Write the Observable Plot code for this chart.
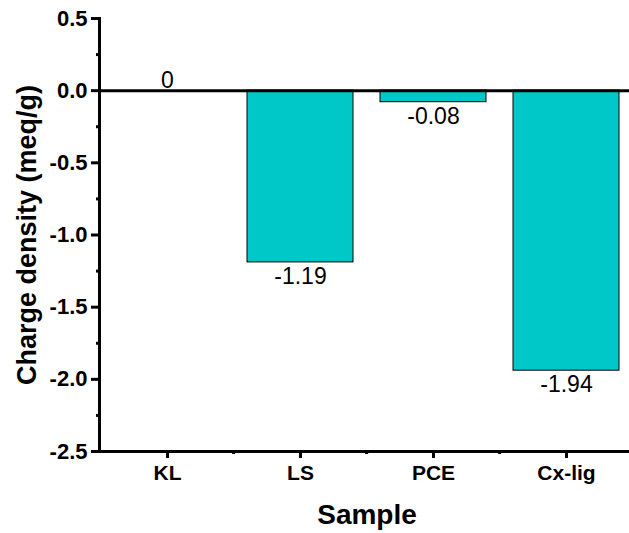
<!DOCTYPE html>
<html><head><meta charset="utf-8">
<script src="https://cdn.jsdelivr.net/npm/d3@7"></script>
<script src="https://cdn.jsdelivr.net/npm/@observablehq/plot@0.6"></script>
<style>
body{margin:0;background:#fff;}
</style></head><body><div id="chart"></div>
<script>
const samples = ["KL", "LS", "PCE", "Cx-lig"];
const values = [0, -1.19, -0.08, -1.94];
const valueLabels = ["0", "-1.19", "-0.08", "-1.94"];
const yMajorTicks = [-2.5, -2, -1.5, -1, -0.5, 0, 0.5];
const yMinorTicks = [-2.25, -1.75, -1.25, -0.75, -0.25, 0.25];
const xTitle = "Sample";
const yTitle = "Charge density (meq/g)";

const data = samples.map((s, i) => ({sample: s, value: values[i], label: valueLabels[i]}));
const W = 629, H = 533, mL = 99, mR = -5, mT = 18, mB = 82;
const step = (W - mL - mR) / (samples.length - 0.2 + 0.2);
const font = '"Liberation Sans", Arial, sans-serif';

const chart = Plot.plot({
  width: W, height: H, marginLeft: mL, marginRight: mR, marginTop: mT, marginBottom: mB,
  style: {fontFamily: font, background: "#fff", color: "#000"},
  x: {domain: samples, paddingInner: 0.2, paddingOuter: 0.1, axis: null},
  y: {domain: [-2.5, 0.5], axis: null},
  marks: [
    Plot.barY(data, {x: "sample", y: "value", fill: "#00c8c8", stroke: "#000", strokeWidth: 1}),
    Plot.ruleY([0], {stroke: "#000", strokeWidth: 3}),
    Plot.frame({anchor: "left", strokeWidth: 3}),
    Plot.frame({anchor: "bottom", strokeWidth: 3}),
    Plot.axisY(yMajorTicks, {label: null, tickSize: 8, tickPadding: 4, strokeWidth: 3, fontSize: 22, fontWeight: "bold", tickFormat: d => d.toFixed(1)}),
    Plot.axisY(yMinorTicks, {label: null, tickSize: 3, strokeWidth: 3, tickFormat: () => ""}),
    Plot.axisX(samples, {label: null, tickSize: 7, tickPadding: 7, strokeWidth: 3, fontSize: 21, fontWeight: "bold"}),
    Plot.axisX(samples.slice(1), {label: null, tickSize: 3, strokeWidth: 3, tickFormat: () => "", dx: -step / 2}),
    Plot.text(data.filter(d => d.value < 0), {x: "sample", y: "value", text: "label", lineAnchor: "top", dy: 5, fontSize: 23}),
    Plot.text(data.filter(d => d.value >= 0), {x: "sample", y: "value", text: "label", lineAnchor: "bottom", dy: -3, fontSize: 23}),
    Plot.text([yTitle], {frameAnchor: "left", textAnchor: "middle", rotate: -90, dx: -72, fontSize: 27, fontWeight: "bold"}),
    Plot.text([xTitle], {frameAnchor: "bottom", textAnchor: "middle", dy: 72, fontSize: 28, fontWeight: "bold"})
  ]
});
document.getElementById("chart").appendChild(chart);
</script></body></html>
